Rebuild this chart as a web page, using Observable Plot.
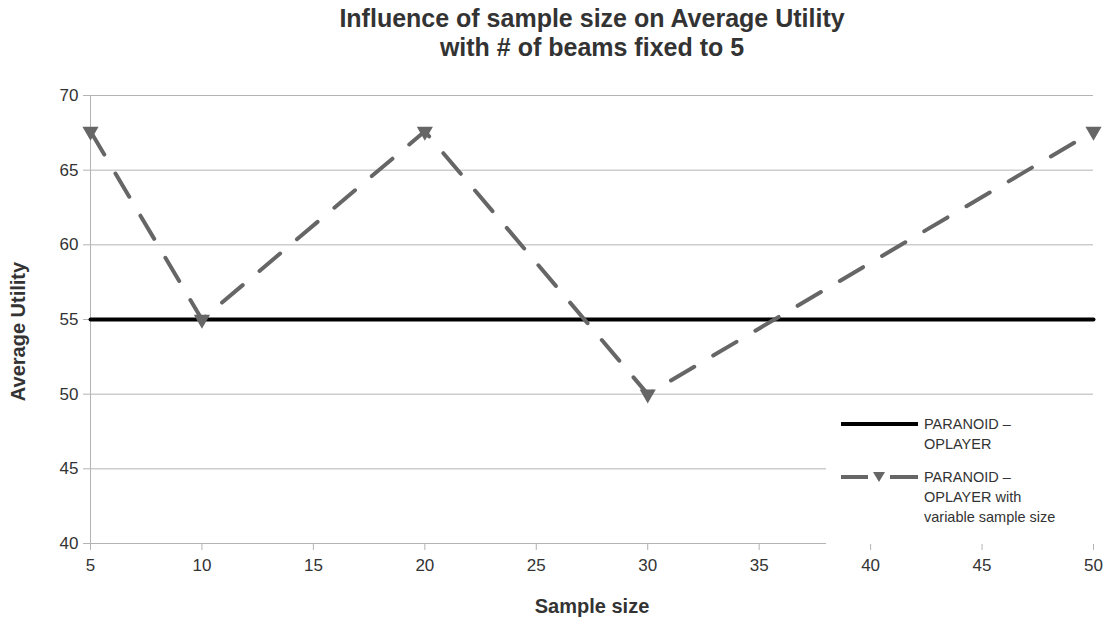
<!DOCTYPE html>
<html>
<head>
<meta charset="utf-8">
<script src="https://cdn.jsdelivr.net/npm/d3@7"></script>
<script src="https://cdn.jsdelivr.net/npm/@observablehq/plot@0.6"></script>
<style>
  html, body { margin: 0; padding: 0; background: #fff; }
  #wrap { position: relative; width: 1105px; height: 621px; font-family: "Liberation Sans", Arial, sans-serif; }
  #legend { position: absolute; left: 826px; top: 404px; width: 279px; height: 140px; background: #fff; }
  #legend svg { display: block; }
</style>
</head>
<body>
<div id="wrap"></div>
<script>
const sampleSizes = [5, 10, 20, 30, 50];
const variableUtility = [67.6, 55, 67.6, 50, 67.6];
const paranoidUtility = [55, 55, 55, 55, 55];
const xTicks = [5, 10, 15, 20, 25, 30, 35, 40, 45, 50];
const yTicks = [40, 45, 50, 55, 60, 65, 70];
const seriesNames = ["PARANOID –\nOPLAYER", "PARANOID –\nOPLAYER with\nvariable sample size"];
const titleText = "Influence of sample size on Average Utility\nwith # of beams fixed to 5";

const rowsVar = sampleSizes.map((x, i) => ({x, y: variableUtility[i]}));
const rowsPar = sampleSizes.map((x, i) => ({x, y: paranoidUtility[i]}));

const triangleDown = {
  draw(context, size) {
    const s = Math.sqrt(size * 4 / Math.sqrt(3));
    const h = s * Math.sqrt(3) / 2;
    context.moveTo(-s / 2, -h / 3);
    context.lineTo(s / 2, -h / 3);
    context.lineTo(0, 2 * h / 3);
    context.closePath();
  }
};

const plot = Plot.plot({
  width: 1105,
  height: 621,
  marginLeft: 90,
  marginRight: 12,
  marginTop: 95,
  marginBottom: 78,
  style: {fontFamily: "'Liberation Sans', Arial, sans-serif", fontSize: "17px", color: "#333", background: "#fff"},
  x: {domain: [5, 50], ticks: xTicks, label: null},
  y: {domain: [40, 70], ticks: yTicks, label: null},
  marks: [
    Plot.gridY(yTicks, {stroke: "#b3b3b3", strokeOpacity: 1, strokeWidth: 1}),
    Plot.frame({anchor: "left", stroke: "#b3b3b3"}),
    Plot.axisY(yTicks, {tickSize: 7, stroke: "#b3b3b3", tickPadding: 5, fill: "#333", fontSize: 17}),
    Plot.axisX(xTicks, {tickSize: 7, stroke: "#b3b3b3", tickPadding: 8, fill: "#333", fontSize: 17}),
    Plot.line(rowsPar, {x: "x", y: "y", stroke: "#000", strokeWidth: 4}),
    Plot.line(rowsVar, {x: "x", y: "y", stroke: "#666", strokeWidth: 4, strokeDasharray: "27,22"}),
    Plot.dot(rowsVar, {x: "x", y: "y", symbol: triangleDown, r: 6, fill: "#666", stroke: "none"}),
    Plot.text([titleText], {frameAnchor: "top", dy: -89, fontSize: 25, fontWeight: "bold", fill: "#333", lineHeight: 1.16}),
    Plot.text(["Average Utility"], {frameAnchor: "left", textAnchor: "middle", dx: -72, dy: 12, rotate: -90, fontSize: 20, fontWeight: "bold", fill: "#333"}),
    Plot.text(["Sample size"], {frameAnchor: "bottom", dy: 69, fontSize: 20, fontWeight: "bold", fill: "#333"})
  ]
});

const wrap = document.getElementById("wrap");
wrap.appendChild(plot);

// Legend
const legend = document.createElement("div");
legend.id = "legend";
const ns = "http://www.w3.org/2000/svg";
const svg = document.createElementNS(ns, "svg");
svg.setAttribute("width", 279);
svg.setAttribute("height", 140);
svg.innerHTML = `
  <line x1="15" x2="92" y1="20" y2="20" stroke="#000" stroke-width="4"/>
  <line x1="15" x2="42" y1="73" y2="73" stroke="#666" stroke-width="4"/>
  <line x1="64" x2="92" y1="73" y2="73" stroke="#666" stroke-width="4"/>
  <path d="M47,68 L59,68 L53,78 Z" fill="#666"/>
`;
const fonts = "font-family:'Liberation Sans',Arial,sans-serif;font-size:14.5px;fill:#333";
seriesNames.forEach((name, k) => {
  const y0 = k === 0 ? 25 : 78;
  name.split("\n").forEach((line, j) => {
    const t = document.createElementNS(ns, "text");
    t.setAttribute("x", 98);
    t.setAttribute("y", y0 + j * 20);
    t.setAttribute("style", fonts);
    t.textContent = line;
    svg.appendChild(t);
  });
});
legend.appendChild(svg);
wrap.appendChild(legend);
</script>
</body>
</html>
